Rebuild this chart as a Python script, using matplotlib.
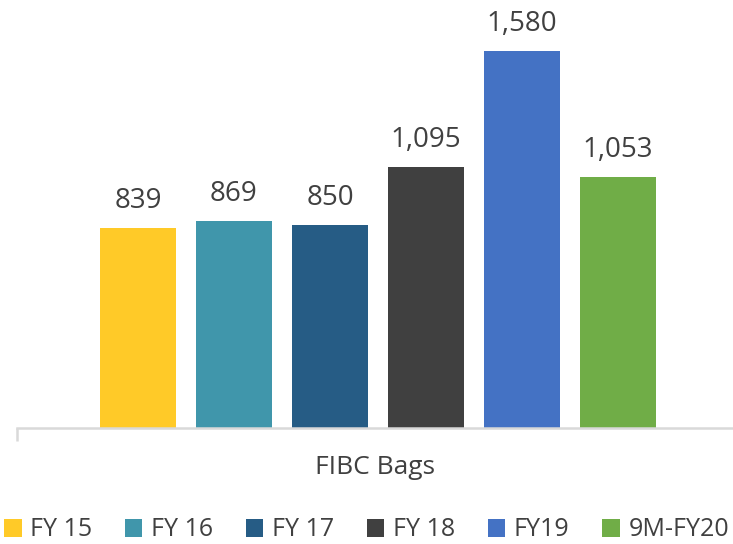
import matplotlib.pyplot as plt
from matplotlib.patches import Patch

categories = ["FY 15", "FY 16", "FY 17", "FY 18", "FY19", "9M-FY20"]
values = [839, 869, 850, 1095, 1580, 1053]
colors = ["#FFCA28", "#4096AB", "#265C85", "#404040", "#4472C4", "#70AD47"]
group_label = "FIBC Bags"

plt.rcParams['font.family'] = ['Open Sans', 'DejaVu Sans']
text_color = "#404040"

fig = plt.figure(figsize=(7.33, 5.44), dpi=100)
ax = fig.add_axes([17 / 733, 116 / 544, 716 / 733, 428 / 544])

x = list(range(len(values)))
bars = ax.bar(x, values, width=0.79, color=colors)
for b, v in zip(bars, values):
    ax.text(b.get_x() + b.get_width() / 2, v + 55, f"{v:,}",
            ha='center', va='bottom', fontsize=20, color=text_color)

ax.set_xlim(-1.26, 6.198)
ax.set_ylim(0, 428 / (377 / 1580))

for s in ['top', 'right', 'left']:
    ax.spines[s].set_visible(False)
ax.spines['bottom'].set_color('#d9d9d9')
ax.spines['bottom'].set_linewidth(1.8)
ax.set_yticks([])
ax.set_xticks([-1.26])
ax.set_xticklabels([])
ax.tick_params(axis='x', length=9, width=1.8, color='#d9d9d9')

ax.text(0.5, -40 / 428, group_label, transform=ax.transAxes,
        ha='center', va='center', fontsize=19, color=text_color)

handles = [Patch(facecolor=c, edgecolor='none') for c in colors]
fig.legend(handles, categories, loc='center', bbox_to_anchor=(0.5, 14 / 544),
           ncol=6, frameon=False, fontsize=18, handlelength=0.7, handleheight=0.7,
           handletextpad=0.35, columnspacing=1.3, labelcolor=text_color,
           borderaxespad=0, borderpad=0)

fig.savefig("out.png", dpi=100)
